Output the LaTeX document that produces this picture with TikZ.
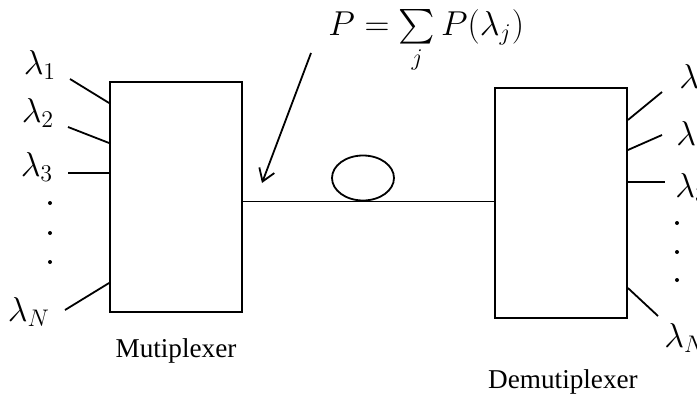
\documentclass[tikz,border=0pt]{standalone}
\usepackage{amsmath}
\usepackage{fontspec}
\setmainfont{Liberation Serif}
\usetikzlibrary{arrows.meta}
\usetikzlibrary{shapes.geometric}
\tikzset{
    unit/.style={draw, line width=0.9pt, minimum width=66pt, minimum height=115pt, inner sep=0pt},
    wire/.style={line width=0.9pt},
    lam/.style={font=\fontsize{17}{19}\selectfont, inner sep=0pt},
    caption/.style={font=\fontsize{13.6}{16}\selectfont, inner sep=0pt},
    dot/.style={circle, fill, inner sep=0pt, minimum size=2pt}
}

\begin{document}
\begin{tikzpicture}[x=0.5pt, y=-0.5pt]
    \useasboundingbox (0,0) rectangle (697,396);
    % the two boxes and the fibre between them
    \node[unit] (mux) at (176,197) {};
    \node[unit] (demux) at (561,203) {};
    \node[draw, ellipse, line width=0.9pt, minimum width=31pt, minimum height=22.5pt, inner sep=0pt] (loop) at (363,178) {};
    \draw[wire] (mux.east |- loop.south) -- (demux.west |- loop.south);
    % inputs
    \node[lam] (l1) at (40,65) {$\lambda_1$};
    \node[lam] (l2) at (38,113) {$\lambda_2$};
    \node[lam] (l3) at (37,167) {$\lambda_3$};
    \node[lam] (lN) at (29,312) {$\lambda_N$};
    \foreach \n/\ax/\ay/\by in {1/70/79/103, 2/68/127/143, 3/68/173/173, N/65/310/283} {
        \coordinate (a\n) at (\ax,\ay);
        \coordinate (b\n) at (mux.west |- {0,\by});
        \draw[wire] (a\n) -- (b\n);
    }
    \foreach \y in {203,233,262} \node[dot] (ld\y) at (50,\y) {};
    % outputs
    \node[lam, anchor=west] (r1) at (679,79) {$\lambda_1$};
    \node[lam, anchor=west] (r2) at (676,136) {$\lambda_2$};
    \node[lam, anchor=west] (r3) at (675,188) {$\lambda_3$};
    \node[lam, anchor=west] (rN) at (664,338) {$\lambda_N$};
    \foreach \n/\cy/\dx/\dy in {1/120/662/92, 2/150/662/135, 3/182/665/182, N/288/658/316} {
        \coordinate (c\n) at (demux.east |- {0,\cy});
        \coordinate (d\n) at (\dx,\dy);
        \draw[wire] (c\n) -- (d\n);
    }
    \foreach \y in {223,252,280} \node[dot] (rd\y) at (677,\y) {};
    % total power
    \node[lam, anchor=base west] (pow) at (328,35) {$P=\sum\limits_j P(\lambda_j)$};
    \coordinate (ptail) at (311,53);
    \coordinate (phead) at (262,183);
    \draw[wire, -{Straight Barb[length=6pt, width=8pt]}] (ptail) -- (phead);
    \node[caption, anchor=base] (mlab) at (176,357) {Mutiplexer};
    \node[caption, anchor=base] (dlab) at (563,388) {Demutiplexer};
\end{tikzpicture}
\end{document}
